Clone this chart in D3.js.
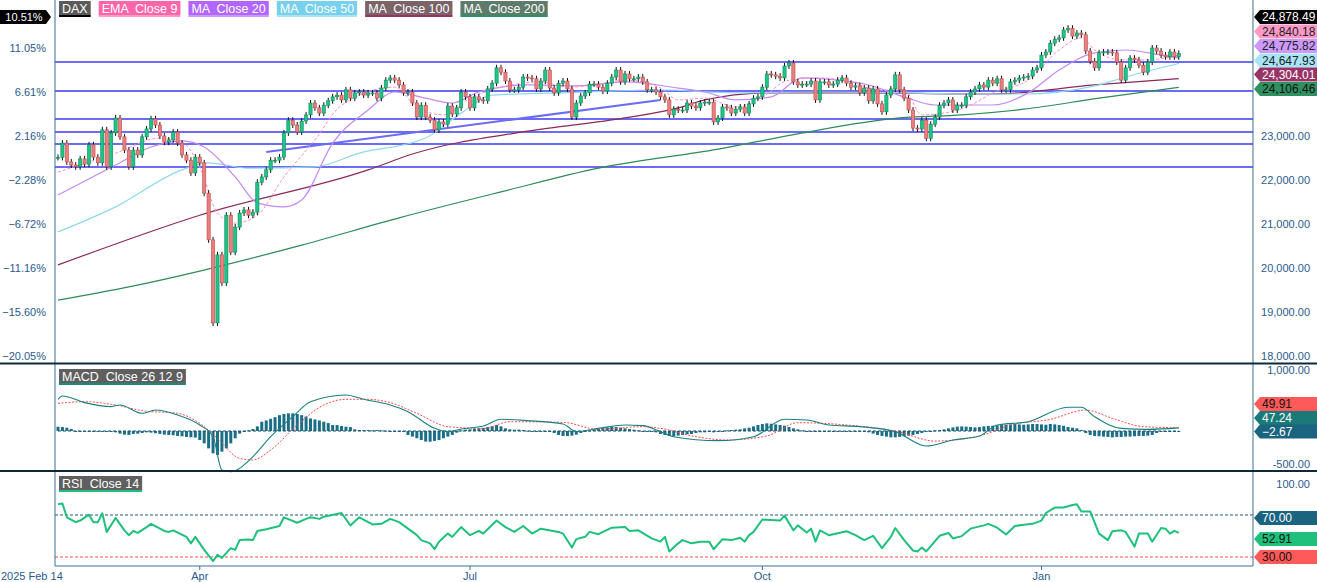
<!DOCTYPE html>
<html>
<head>
<meta charset="utf-8">
<script src="https://cdn.jsdelivr.net/npm/d3@7"></script>
<style>
  body { margin: 0; background: #fff; }
  svg { font-family: "Liberation Sans", Arial, sans-serif; }
  text.box { white-space: pre; }
</style>
</head>
<body>
<svg id="chart" width="1317" height="582"></svg>
<script>
/* DAX daily closes (open = previous close) */
var closes = [
  22513,22840,22410,22340,22300,22480,22360,22800,22520,22390,23140,22300,23070,23410,22980,22680,22300,22680,22570,22980,
  23160,23390,23250,23000,22860,22910,23090,22840,22570,22450,22160,22520,22390,
  21700,20640,18750,20300,19660,21200,20360,20930,21250,21320,21200,21270,21950,22070,22230,22450,22450,22520,23070,23360,
  23250,23090,23340,23480,23750,23640,23520,23700,23800,23890,
  23930,23820,24050,23860,23980,24000,23930,23980,23980,23860,
  24090,24270,24320,24270,24160,23980,24000,23750,23430,23700,23430,23360,23140,23320,23270,23680,23500,23640,24000,23890,
  23640,23890,23820,23800,24070,24200,24550,24450,24250,24050,24050,24110,24340,24320,24300,24070,24250,24500,24090,23980,
  24200,24250,24070,23430,23750,23910,23980,24180,24180,24110,24020,24200,24340,24500,24230,24410,24300,24300,24340,24230,
  24050,24050,24000,23890,23820,
  23480,23610,23590,23590,23750,23680,23640,23750,23770,23770,23320,23410,23660,23640,23520,23610,23660,23520,23730,23860,
  23890,24110,24410,24390,24360,24320,24590,24660,24230,24160,24180,24180,24250,23820,24230,24230,24160,24180,24270,24320,
  24200,24110,24140,23980,24090,23800,24070,23730,23550,23930,24070,24390,24050,23860,23590,23180,23160,23360,22950,23270,
  23430,23700,23750,23820,23590,23700,
  23700,23890,24000,24070,24160,24110,24270,24200,24300,24050,24050,24230,24270,24320,24340,24360,24500,24550,24840,24910,
  25110,25200,25230,25410,25450,25270,25340,25300,24930,24700,24550,24890,24910,24910,24890,24680,24270,24550,24770,24730,
  24610,24450,24680,25000,24930,24840,24800,24910,24800,24878.49
];

/* moving averages: [candle index, value] */
var ema9 = [[0,22180],[13,22610],[23,22950],[28,22860],[32,22300],[36,21250],[40,21020],[45,21200],[51,22070],[58,22910],
  [64,23700],[76,24110],[81,23660],[87,23480],[93,23860],[100,24110],[109,24230],[115,24110],[121,24160],[128,24270],
  [136,24090],[140,23820],[146,23860],[153,23660],[159,23890],[165,24270],[172,24320],[179,24230],[185,24045],[191,24045],
  [195,23480],[200,23520],[206,23700],[211,23980],[219,24270],[226,24955],[231,25230],[234,24955],[240,24730],[246,24730],[253,24840.18]];
var ma20 = [[0,21660],[13,22340],[21,22750],[28,22890],[33,22750],[40,22070],[45,21480],[51,21390],[55,21545],[62,22840],
  [70,23590],[76,24000],[83,23860],[89,23750],[95,24000],[106,24160],[117,24140],[128,24230],[140,24090],[146,24000],
  [153,23820],[161,23890],[168,24320],[176,24270],[183,24160],[191,23890],[198,23705],[206,23705],[211,23705],[219,23980],
  [226,24500],[234,24890],[241,24955],[249,24840],[253,24775.82]];
var ma50 = [[0,20820],[13,21390],[28,22230],[34,22390],[43,22270],[58,22300],[68,22610],[83,22955],[91,23520],[98,23930],
  [113,23980],[136,24045],[153,23980],[172,24000],[191,23980],[206,23955],[218,23955],[234,24140],[241,24340],[253,24647.93]];
var ma100 = [[0,20070],[32,21200],[70,22230],[80,22590],[106,23110],[128,23410],[140,23640],[146,23820],[161,23980],
  [183,23980],[206,23955],[211,23955],[234,24160],[253,24304.01]];
var ma200 = [[0,19270],[16,19570],[32,19930],[55,20520],[77,21140],[100,21730],[122,22270],[149,22700],[167,23050],
  [190,23410],[204,23480],[218,23610],[235,23860],[253,24106.46]];

/* horizontal support lines and trendline */
var levels = [24682, 24023, 23386, 23091, 22818, 22295];
var trend = [[47,22636],[136,23818]];

/* MACD 26 12 9 */
var macd = [[0,480],[1,530],[6,430],[12,370],[14,394],[19,268],[22,318],[27,242],[32,91],[35,-86],[37,-591],[39,-616],
  [44,-389],[48,-86],[53,217],[57,444],[65,545],[69,480],[75,394],[79,293],[85,40],[88,-10],[91,30],[96,76],[100,177],
  [106,157],[114,106],[117,-10],[122,40],[128,91],[132,81],[136,-10],[139,-86],[149,-146],[157,-86],[164,177],[169,167],
  [174,91],[181,66],[189,-10],[196,-227],[202,-136],[208,-76],[212,91],[219,141],[228,359],[231,359],[234,217],[240,40],
  [246,25],[253,47.24]];
var signal = [[0,419],[6,444],[13,394],[19,308],[27,268],[32,116],[36,-111],[41,-414],[44,-439],[48,-288],[54,91],
  [60,394],[65,480],[70,480],[75,429],[81,268],[88,66],[96,40],[102,141],[114,131],[122,25],[132,66],[136,40],[144,-86],
  [151,-136],[160,-76],[167,126],[178,91],[189,0],[198,-152],[208,-76],[215,91],[224,177],[232,318],[238,192],[245,66],[253,49.91]];
var hist = [
  65,60,50,30,-10,-15,-10,-15,-15,-10, -15,-10,-15,-20,-40,-55,-60,-45,-40,-30,
  -20,-25,-35,-45,-55,-60,-65,-75,-80,-90, -95,-100,-136,-187,-263,-338,-364,-313,-263,-187,
  -111,-40,-10,10,30,70,140,160,185,210, 240,258,268,268,258,240,220,190,175,160,
  140,120,90,90,75,65,60,25,15,15, 15,10,15,10,5,-5,-5,-5,-10,-60,
  -85,-110,-136,-160,-162,-150,-136,-110,-85,-60, -25,10,20,25,35,40,45,60,75,91,
  70,40,25,20,20,15,5,0,-5,-5, 0,-5,-30,-60,-76,-76,-70,-55,-30,-10,
  10,25,35,45,55,66,60,50,40,30, 20,10,0,-5,-10,-20,-45,-60,-76,-76,
  -70,-60,-50,-45,-30,-20,-20,-15,-20,-10, 0,10,15,20,25,40,50,70,91,105,
  116,110,100,91,80,60,40,25,10,-5, -5,-5,-5,0,-5,-5,-5,-10,-5,-5,
  -5,-10,-10,-20,-40,-60,-75,-85,-96,-96, -90,-80,-70,-60,-45,-30,-15,0,10,15,
  25,40,55,66,70,66,60,55,60,70, 76,80,85,90,95,100,106,100,95,100,
  106,106,100,95,106,100,90,80,60,50, 40,15,-30,-60,-76,-80,-85,-90,-96,-90,
  -90,-85,-85,-80,-76,-76,-70,-60,-30,-10, -5,-3,-3,-2.67
];

/* RSI 14 */
var rsi = [[0,80.2],[1,80.9],[2,67.8],[4,63.2],[5,64.7],[7,70.3],[8,63.2],[9,63.2],[10,71.6],[11,53.9],[13,67.2],[15,55.4],
  [16,50.8],[17,54.8],[18,53],[20,58.5],[21,61.6],[24,54.8],[25,53.9],[26,55.4],[29,49.2],[30,43],[31,49.2],[33,36.8],
  [35,26],[36,32.2],[37,29.1],[39,38.4],[40,36.8],[41,46.1],[43,46.7],[44,46.1],[45,54.8],[47,56.4],[50,59.5],[51,67.8],
  [54,62.6],[56,66.3],[57,67.8],[59,66.3],[60,68.4],[64,71.9],[66,60.1],[68,67.8],[71,61],[73,61.6],[75,66.3],[77,63.2],
  [79,57],[81,50.8],[82,46.1],[84,43],[85,37.4],[86,44.6],[88,52.3],[89,49.2],[91,58.5],[93,50.8],[95,54.8],[96,52.3],
  [99,64.7],[101,58.5],[103,53.9],[105,59.5],[107,52.3],[109,57],[113,53.9],[114,52.3],[116,39],[117,47],[119,49.2],
  [120,53.9],[122,51.7],[125,57.9],[128,58.5],[129,54.8],[131,55.4],[134,47.7],[136,44.6],[137,49.2],[138,35.3],[140,43],
  [141,46.1],[143,43],[145,44.6],[147,44.6],[148,37.4],[150,47],[152,46.1],[154,48.3],[155,44.6],[156,50.8],[157,53.9],
  [159,65.7],[163,64.7],[164,69.4],[166,55.4],[167,60.1],[169,53.3],[170,57],[171,44.6],[172,55.4],[174,50.8],[178,54.5],
  [180,50.8],[182,46.1],[184,50.2],[186,38.4],[188,49.2],[189,57.6],[191,46.1],[193,36.2],[194,35.3],[195,39],[196,35.3],
  [199,50.2],[201,52.9],[202,47.7],[204,49.9],[206,57],[209,60.1],[210,61.6],[212,57.9],[214,51.4],[216,59.5],[218,60.7],
  [220,61.6],[222,64.7],[223,71.9],[225,77.1],[227,77.1],[229,79.6],[230,80.2],[231,73.4],[233,73.4],[235,52.3],[237,46.1],
  [238,54.5],[240,55.4],[241,53.9],[243,39.9],[244,52.3],[246,52.3],[247,44.6],[249,57.6],[250,57],[251,52.3],[252,54.8],[253,52.91]];

/* axis ticks */
var priceTicks = [18000, 19000, 20000, 21000, 22000, 23000, 24000, 25000];
var monthIdx = [32, 93, 159, 222];
var monthLabels = ["Apr", "Jul", "Oct", "Jan"];
var legendItems = ["DAX", "EMA  Close 9", "MA  Close 20", "MA  Close 50", "MA  Close 100", "MA  Close 200"];

var svg = d3.select("#chart");
var left = 55, right = 1253;
var axisColor = "#2a5a8c";

var x = d3.scaleLinear().domain([0, closes.length - 1]).range([58, 1178.8]);
var y = d3.scaleLinear().domain([18000, 25000]).range([356, 48]);
var yM = d3.scaleLinear().domain([-500, 1000]).range([464, 365]);
var yR = d3.scaleLinear().domain([30, 100]).range([557, 483.5]);
var basePrice = closes[0];

svg.append("clipPath").attr("id", "cp").append("rect").attr("x", left).attr("y", 0).attr("width", right - left).attr("height", 362);
var price = svg.append("g").attr("clip-path", "url(#cp)");

// support levels
price.selectAll("line.lvl").data(levels).enter().append("line")
  .attr("x1", left).attr("x2", right)
  .attr("y1", function(d) { return y(d); }).attr("y2", function(d) { return y(d); })
  .attr("stroke", "#6b6bf5").attr("stroke-width", 2);
price.append("line")
  .attr("x1", x(trend[0][0])).attr("y1", y(trend[0][1]))
  .attr("x2", x(trend[1][0])).attr("y2", y(trend[1][1]))
  .attr("stroke", "#6b6bf5").attr("stroke-width", 2);

// moving averages
function smoothPath(data, yS) {
  var line = d3.line().x(function(d) { return x(d[0]); }).y(function(d) { return yS(d[1]); }).curve(d3.curveMonotoneX);
  return line(data);
}
price.append("path").attr("d", smoothPath(ma200, y)).attr("fill", "none").attr("stroke", "#2e8b57").attr("stroke-width", 1.2);
price.append("path").attr("d", smoothPath(ma100, y)).attr("fill", "none").attr("stroke", "#8b2a5a").attr("stroke-width", 1.2);
price.append("path").attr("d", smoothPath(ma50, y)).attr("fill", "none").attr("stroke", "#8fd8f0").attr("stroke-width", 1.2);
price.append("path").attr("d", smoothPath(ma20, y)).attr("fill", "none").attr("stroke", "#c38af5").attr("stroke-width", 1.2);
price.append("path").attr("d", smoothPath(ema9, y)).attr("fill", "none").attr("stroke", "#ff8cc0").attr("stroke-width", 1).attr("stroke-dasharray", "3,2");

// candles
var candles = closes.map(function(c, i) { return { i: i, o: i ? closes[i - 1] : c, c: c }; });
var cg = price.selectAll("g.candle").data(candles).enter().append("g");
cg.append("line")
  .attr("x1", function(d) { return x(d.i); }).attr("x2", function(d) { return x(d.i); })
  .attr("y1", function(d) { return y(Math.max(d.o, d.c)) - 3; })
  .attr("y2", function(d) { return y(Math.min(d.o, d.c)) + 3; })
  .attr("stroke", "#111").attr("stroke-width", 1);
cg.append("rect")
  .attr("x", function(d) { return x(d.i) - 1.6; }).attr("width", 3.2)
  .attr("y", function(d) { return y(Math.max(d.o, d.c)); })
  .attr("height", function(d) { return Math.max(1, Math.abs(y(d.o) - y(d.c))); })
  .attr("fill", function(d) { return d.c >= d.o ? "#1fc488" : "#e88080"; })
  .attr("stroke", function(d) { return d.c >= d.o ? "#0f8a5a" : "#c04848"; })
  .attr("stroke-width", 0.6);

// price axis labels
svg.selectAll("text.pt").data(priceTicks.filter(function(t) { return t <= 23000; })).enter().append("text")
  .attr("x", 1310).attr("y", function(d) { return y(d) + 4; }).attr("text-anchor", "end")
  .attr("font-size", 11).attr("fill", axisColor).text(function(d) { return d3.format(",.2f")(d); });
svg.selectAll("text.pc").data(priceTicks).enter().append("text")
  .attr("x", 46).attr("y", function(d) { return y(d) + 4; }).attr("text-anchor", "end")
  .attr("font-size", 11).attr("fill", axisColor)
  .text(function(d) { return d3.format(".2f")((d / basePrice - 1) * 100) + "%"; });

// MACD panel
var mg = svg.append("g");
mg.selectAll("rect").data(hist).enter().append("rect")
  .attr("x", function(d, i) { return x(i) - 1.5; }).attr("width", 3)
  .attr("y", function(d) { return Math.min(yM(d), yM(0)); })
  .attr("height", function(d) { return Math.max(1, Math.abs(yM(d) - yM(0))); })
  .attr("fill", "#1a6e88");
mg.append("line").attr("x1", x(0)).attr("x2", x(closes.length - 1)).attr("y1", yM(0)).attr("y2", yM(0))
  .attr("stroke", "#1a4f6a").attr("stroke-dasharray", "3,2");
mg.append("path").attr("d", smoothPath(signal, yM)).attr("fill", "none").attr("stroke", "#ff4d4d").attr("stroke-width", 1).attr("stroke-dasharray", "2,1.5");
mg.append("path").attr("d", smoothPath(macd, yM)).attr("fill", "none").attr("stroke", "#1a8080").attr("stroke-width", 1.1);
svg.append("text").attr("x", 1310).attr("y", yM(1000) + 9).attr("text-anchor", "end").attr("font-size", 11).attr("fill", axisColor).text("1,000.00");
svg.append("text").attr("x", 1310).attr("y", yM(-500) + 4).attr("text-anchor", "end").attr("font-size", 11).attr("fill", axisColor).text("-500.00");

// RSI panel
var rg = svg.append("g");
rg.append("line").attr("x1", left).attr("x2", right).attr("y1", yR(70)).attr("y2", yR(70)).attr("stroke", "#1a5f7a").attr("stroke-dasharray", "3,2");
rg.append("line").attr("x1", left).attr("x2", right).attr("y1", yR(30)).attr("y2", yR(30)).attr("stroke", "#ff4d4d").attr("stroke-dasharray", "3,2");
rg.append("path")
  .attr("d", d3.line().x(function(d) { return x(d[0]); }).y(function(d) { return yR(d[1]); })(rsi))
  .attr("fill", "none").attr("stroke", "#1fc07c").attr("stroke-width", 2).attr("stroke-linejoin", "round");
svg.append("text").attr("x", 1310).attr("y", yR(100) + 4).attr("text-anchor", "end").attr("font-size", 11).attr("fill", axisColor).text("100.00");

// frame
svg.append("line").attr("x1", left).attr("x2", left).attr("y1", 0).attr("y2", 566).attr("stroke", "#3a6f95");
svg.append("line").attr("x1", right).attr("x2", right).attr("y1", 0).attr("y2", 566).attr("stroke", "#3a6f95");
svg.append("line").attr("x1", left).attr("x2", right).attr("y1", 566).attr("y2", 566).attr("stroke", "#3a6f95");
[363.5, 471].forEach(function(v) {
  svg.append("line").attr("x1", 0).attr("x2", 1317).attr("y1", v).attr("y2", v).attr("stroke", "#0e2a38").attr("stroke-width", 2);
});

// x axis
svg.selectAll("line.mt").data(monthIdx).enter().append("line")
  .attr("x1", function(d) { return x(d); }).attr("x2", function(d) { return x(d); })
  .attr("y1", 566).attr("y2", 570).attr("stroke", "#3a6f95");
svg.selectAll("text.mt").data(monthIdx).enter().append("text")
  .attr("x", function(d) { return x(d); }).attr("y", 580).attr("text-anchor", "middle")
  .attr("font-size", 11).attr("fill", axisColor).text(function(d, i) { return monthLabels[i]; });
svg.append("text").attr("x", 1).attr("y", 580).attr("font-size", 11).attr("fill", axisColor).text("2025 Feb 14");

// value tags
function tag(cy, text, fill, color) {
  var g = svg.append("g");
  g.append("path").attr("d", "M" + (right + 1) + "," + cy + " l6,-7 h58 v14 h-58 z").attr("fill", fill);
  g.append("text").attr("x", right + 9).attr("y", cy + 4).attr("font-size", 12).attr("fill", color).text(text);
}
tag(17, d3.format(",.2f")(closes[closes.length - 1]), "#000", "#fff");
tag(31.5, d3.format(",.2f")(ema9[ema9.length - 1][1]), "#ff99c8", "#222");
tag(46, d3.format(",.2f")(ma20[ma20.length - 1][1]), "#cc99ff", "#222");
tag(60.5, d3.format(",.2f")(ma50[ma50.length - 1][1]), "#a8e4f8", "#222");
tag(74.5, d3.format(",.2f")(ma100[ma100.length - 1][1]), "#993366", "#fff");
tag(89, d3.format(",.2f")(ma200[ma200.length - 1][1]), "#2f9060", "#111");
tag(404, d3.format(".2f")(signal[signal.length - 1][1]), "#ff5a5a", "#111");
tag(418, d3.format(".2f")(macd[macd.length - 1][1]), "#1a7a7a", "#fff");
tag(431.5, d3.format(".2f")(hist[hist.length - 1]), "#1a6480", "#fff");
tag(yR(70) + 3, "70.00", "#1a6480", "#fff");
tag(yR(52.91) + 6, "52.91", "#1fc07c", "#111");
tag(yR(30), "30.00", "#ff5a5a", "#111");

// percent tag top-left
var pg = svg.append("g");
pg.append("path").attr("d", "M0,10 h46 l5,7 l-5,7 h-46 z").attr("fill", "#000");
pg.append("text").attr("x", 24).attr("y", 21).attr("text-anchor", "middle").attr("font-size", 11).attr("fill", "#fff")
  .text(d3.format(".2f")((closes[closes.length - 1] / basePrice - 1) * 100) + "%");

// legend boxes
var legendFill = ["#5a5a5a", "#ff66aa", "#b366ff", "#77d0ee", "#7a6468", "#5e7a6a"];
var legendLine = ["#000", "#ff99c8", "#cc99ff", "#a8e4f8", "#993366", "#2f9060"];
function labelBox(px, py, text, fill, under) {
  var g = svg.append("g");
  var bg = g.append("rect").attr("x", px).attr("y", py).attr("height", 14).attr("fill", fill);
  var ul = g.append("rect").attr("x", px).attr("y", py + 14).attr("height", 2).attr("fill", under);
  var tx = g.append("text").attr("class", "box").attr("x", px + 3).attr("y", py + 12)
    .attr("font-size", 12.5).attr("fill", "#fff").text(text);
  var w = tx.node().getComputedTextLength() + 6;
  bg.attr("width", w);
  ul.attr("width", w);
  return w;
}
var lx = 59;
legendItems.forEach(function(t, i) {
  lx += labelBox(lx, 1, t, legendFill[i], legendLine[i]) + 8;
});

// panel labels
labelBox(59, 369, "MACD  Close 26 12 9", "#5f5f5f", "#1a8a7a");
labelBox(59, 476, "RSI  Close 14", "#5f5f5f", "#1fc07c");
</script>
</body>
</html>
